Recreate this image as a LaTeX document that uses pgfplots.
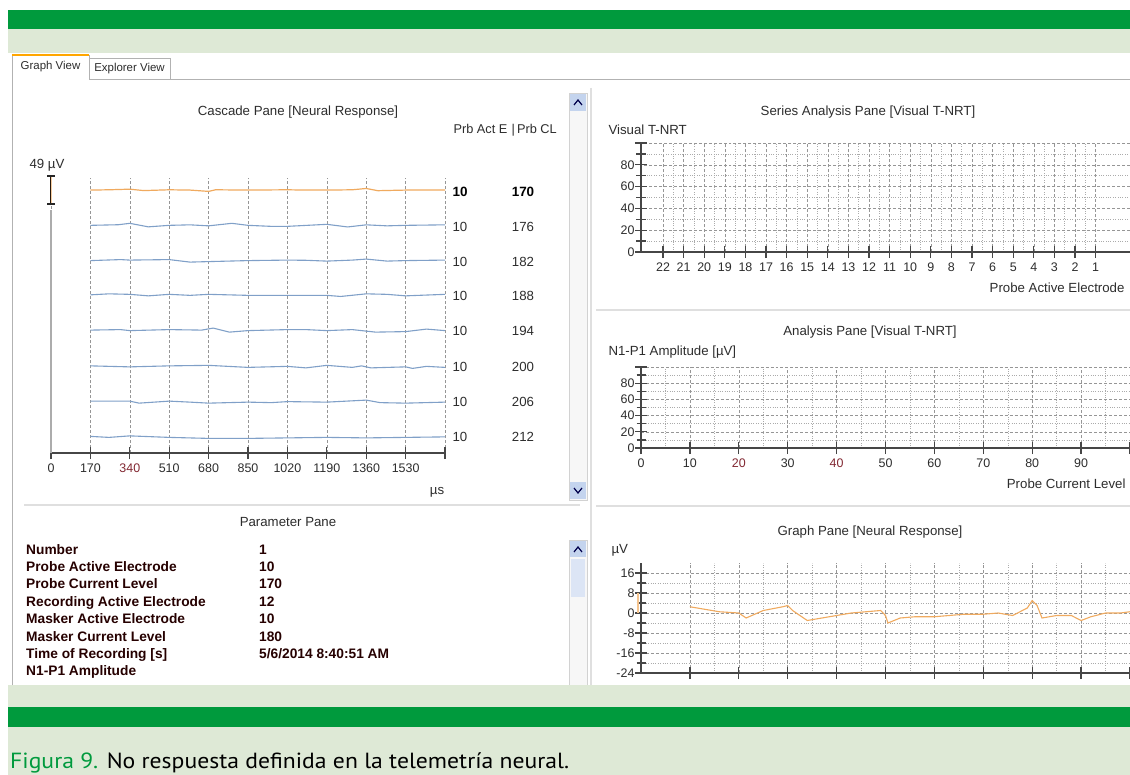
\documentclass[border=0pt]{standalone}
\usepackage{pgfplots}
\pgfplotsset{compat=1.18}
\usepackage{fontspec}
\setmainfont{Liberation Sans}
\newfontfamily\capfont[FakeStretch=1.08]{PT Sans}
\definecolor{dkgreen}{RGB}{0,154,61}
\definecolor{ltgreen}{RGB}{222,233,214}
\definecolor{trace}{RGB}{128,160,200}
\definecolor{otrace}{RGB}{240,170,95}
\definecolor{axgray}{RGB}{70,70,70}
\definecolor{gridc}{RGB}{150,150,150}
\definecolor{sbtn}{RGB}{196,212,238}
\definecolor{txt}{RGB}{45,45,45}
\definecolor{lblred}{RGB}{130,40,50}
\newcommand{\ui}{\fontsize{13.3}{15}\selectfont}
\newcommand{\tickf}{\fontsize{12.5}{14}\selectfont}
\newcommand{\pf}{\fontsize{13.8}{15}\selectfont\bfseries}
\pgfplotsset{
 pane/.style={
  scale only axis, clip=false,
  axis x line=bottom, axis y line=left,
  axis line style={-, axgray, line width=2bp},
  tick style={axgray, line width=1.3bp},
  tick align=center,
  major tick length=12bp, minor tick length=9bp,
  minor x tick style={draw=none},
  ticklabel style={font=\tickf, text=txt},
  /pgf/number format/assume math mode=true,
  grid=both,
  major grid style={gridc, densely dashed, line width=0.5bp},
  minor grid style={gridc!80, dotted, line width=0.5bp},
 }
}
\begin{document}
\begin{tikzpicture}[x=1bp,y=-1bp]
\path[use as bounding box] (0,0) rectangle (1130,775);
\coordinate (cA) at (51,453);
\coordinate (cB) at (641,252);
\coordinate (cC) at (641,448);
\coordinate (cD) at (641,673);
\fill[white] (0,0) rectangle (1130,775);
\fill[ltgreen] (8,10) rectangle (1130,775);
\fill[dkgreen] (8,10) rectangle (1130,29);
\fill[white] (0,53) rectangle (1130,685);
\fill[dkgreen] (8,707) rectangle (1130,727);
\node[anchor=base west, inner sep=0] at (10,768) {\capfont\fontsize{22}{24}\selectfont\textcolor{dkgreen}{Figura 9.} No respuesta definida en la telemetría neural.};
% tabs and frame
\draw[gray!60] (89,58) rectangle (170,79);
\node[text=txt] at (129.5,69) {\fontsize{11.5}{12}\selectfont Explorer View};
\draw[gray!60] (12,685) -- (12,55) -- (89,55) -- (89,79) -- (1130,79);
\draw[orange!70!yellow, line width=1.6bp] (12,55) -- (89,55);
\node[text=txt] at (50.5,67) {\fontsize{11.5}{12}\selectfont Graph View};
% separators
\draw[gray!25, line width=1.5bp] (24,505) -- (580,505);
\draw[gray!25, line width=1.5bp] (596,310) -- (1130,310);
\draw[gray!25, line width=1.5bp] (596,506) -- (1130,506);
\draw[gray!25, line width=1.5bp] (591,88) -- (591,685);
% scrollbars
\fill[gray!6] (569,93) rectangle (587,500);
\draw[gray!35] (569,93) rectangle (587,500);
\fill[sbtn] (570,94) rectangle (586,111);
\draw[blue!30!black, line width=1.2bp] (574,105) -- (578,100) -- (582,105);
\fill[sbtn] (570,482) rectangle (586,499);
\draw[blue!30!black, line width=1.2bp] (574,488) -- (578,493) -- (582,488);
\fill[gray!6] (569,540) rectangle (587,685);
\draw[gray!35] (569,540) -- (569,685) (587,540) -- (587,685) (569,540) -- (587,540);
\fill[sbtn] (570,541) rectangle (586,557);
\draw[blue!30!black, line width=1.2bp] (574,552) -- (578,547) -- (582,552);
\fill[sbtn!60] (571,559) rectangle (585,597);
% cascade texts
\node[text=txt] at (298,112) {\ui Cascade Pane [Neural Response]};
\node[text=txt, anchor=west] at (450,130) {\fontsize{12.8}{14}\selectfont Prb Act E\,\,|\,Prb CL};
\node[text=txt, anchor=west] at (26,165) {\ui 49 µV};
\foreach \yy/\cl [count=\i] in {192/170,227/176,262/182,296/188,331/194,367/200,402/206,437/212}{
  \ifnum\i=1
    \node[text=black, anchor=west] at (449,\yy) {\fontsize{13.5}{15}\selectfont\bfseries 10};
    \node[text=black] at (523,\yy) {\fontsize{13.5}{15}\selectfont\bfseries \cl};
  \else
    \node[text=txt, anchor=west] at (449,\yy) {\ui 10};
    \node[text=txt] at (523,\yy) {\ui \cl};
  \fi
}
\node[text=txt] at (437,492) {\ui µs};
% cascade axis
\begin{axis}[pane, at={(cA)}, anchor=south west, width=394bp, height=275bp,
  xmin=0, xmax=1700, ymin=0, ymax=273, axis y line=none,
  xtick={0,170,...,1700}, xticklabels={0,170,\textcolor{lblred}{340},510,680,850,1020,1190,1360,1530,},
  ymajorgrids=false, yminorgrids=false, xminorgrids=false,
  major grid style={gridc, densely dashed, line width=0.6bp},
  xticklabel style={yshift=-1bp}]
\draw[gray!65, line width=2bp] (axis cs:0,0) -- (axis cs:0,241);
\draw[otrace!60, line width=2.6bp] (axis cs:0,248) -- (axis cs:0,274);
\draw[black!80!brown, line width=1bp] (axis cs:0,247) -- (axis cs:0,275);
\draw[black!85, line width=1.4bp] (axis cs:-17,275) -- (axis cs:17,275) (axis cs:-17,247) -- (axis cs:17,247);
\addplot[otrace, line width=1.2bp] table[row sep=\\, y expr=\thisrow{v}+261] {x v\\
170 0\\ 250 0.3\\ 340 0.9\\ 400 -0.5\\ 510 0.3\\ 600 0\\ 680 -1.3\\ 710 0.3\\ 850 0\\ 1020 0.3\\ 1100 0\\ 1190 0\\ 1300 0.3\\ 1360 1.6\\ 1410 -0.6\\ 1530 0\\ 1700 0\\};
\addplot[trace, line width=1.1bp] table[row sep=\\, y expr=\thisrow{v}+226] {x v\\
170 0\\ 290 0.6\\ 340 2\\ 420 -1.5\\ 510 0\\ 600 0.5\\ 680 -0.5\\ 780 2\\ 850 0\\ 950 -1\\ 1020 -1\\ 1190 1\\ 1280 -1.6\\ 1360 0.5\\ 1450 -0.5\\ 1530 0\\ 1700 0.5\\};
\addplot[trace, line width=1.1bp] table[row sep=\\, y expr=\thisrow{v}+191] {x v\\
170 0\\ 300 1\\ 340 0.5\\ 510 1\\ 600 -1.5\\ 680 -1\\ 850 0\\ 1020 0.5\\ 1100 0.3\\ 1190 -0.5\\ 1300 0.5\\ 1360 1.5\\ 1450 -0.5\\ 1530 0\\ 1700 0.5\\};
\addplot[trace, line width=1.1bp] table[row sep=\\, y expr=\thisrow{v}+157] {x v\\
170 0\\ 250 1\\ 340 0.5\\ 420 -1\\ 510 0.5\\ 600 -0.5\\ 680 0.5\\ 850 -0.5\\ 1020 -0.5\\ 1190 -0.5\\ 1250 -1.6\\ 1360 1\\ 1450 0.5\\ 1530 -1\\ 1700 0.5\\};
\addplot[trace, line width=1.1bp] table[row sep=\\, y expr=\thisrow{v}+122] {x v\\
170 0\\ 300 0.5\\ 340 -0.5\\ 510 0.5\\ 650 0\\ 700 2\\ 770 -2\\ 850 -0.5\\ 1020 0.5\\ 1100 0.5\\ 1190 -0.5\\ 1300 0.5\\ 1400 -2\\ 1530 -1.5\\ 1620 1\\ 1700 -0.5\\};
\addplot[trace, line width=1.1bp] table[row sep=\\, y expr=\thisrow{v}+86] {x v\\
170 0.5\\ 340 -0.5\\ 510 0.5\\ 680 1\\ 850 -1\\ 1020 0\\ 1100 -1.5\\ 1190 1\\ 1300 -1\\ 1340 0.5\\ 1380 -1.5\\ 1530 -0.5\\ 1560 -2\\ 1620 0\\ 1700 -1\\};
\addplot[trace, line width=1.1bp] table[row sep=\\, y expr=\thisrow{v}+51] {x v\\
170 0.5\\ 340 0.5\\ 380 -1.5\\ 510 0.5\\ 600 -0.5\\ 680 -1.5\\ 850 -0.5\\ 950 -1\\ 1020 0\\ 1190 -0.5\\ 1360 1.5\\ 1420 -1\\ 1530 -1.5\\ 1700 -0.5\\};
\addplot[trace, line width=1.1bp] table[row sep=\\, y expr=\thisrow{v}+16] {x v\\
170 0.5\\ 250 -0.5\\ 340 1\\ 510 -0.5\\ 680 -1.5\\ 850 -1.5\\ 1020 -1\\ 1190 -0.5\\ 1360 -1\\ 1530 -0.5\\ 1700 0\\};
\end{axis}
% series analysis pane
\node[text=txt] at (868,112) {\ui Series Analysis Pane [Visual T-NRT]};
\node[text=txt, anchor=west] at (605,130) {\ui Visual T-NRT};
\node[text=txt, anchor=east] at (1128,288) {\ui Probe Active Electrode};
\begin{axis}[pane, at={(cB)}, anchor=south west, width=489bp, height=109bp,
  x dir=reverse, xmin=-0.67, xmax=23.07, ymin=0, ymax=100,
  xtick={1,...,22}, minor x tick num=1, ytick={0,20,...,100}, yticklabels={0,20,40,60,80,},
  minor y tick num=1, yticklabel style={xshift=3bp}, xticklabel style={yshift=-1bp}]
\end{axis}
% analysis pane
\node[text=txt] at (870,332) {\ui Analysis Pane [Visual T-NRT]};
\node[text=txt, anchor=west] at (605,352) {\ui N1-P1 Amplitude [µV]};
\node[text=txt, anchor=east] at (1129,484) {\ui Probe Current Level};
\begin{axis}[pane, at={(cC)}, anchor=south west, width=489bp, height=81bp,
  xmin=0, xmax=100, ymin=0, ymax=100,
  xtick={0,10,...,100}, xticklabels={0,10,\textcolor{lblred}{20},30,\textcolor{lblred}{40},50,60,70,80,90,},
  minor x tick num=1, ytick={0,20,...,100}, yticklabels={0,20,40,60,80,},
  minor y tick num=1, yticklabel style={xshift=3bp}, xticklabel style={yshift=-1bp}]
\end{axis}
% graph pane
\node[text=txt] at (870,532) {\ui Graph Pane [Neural Response]};
\node[text=txt, anchor=west] at (608,550) {\ui µV};
\begin{axis}[pane, at={(cD)}, anchor=south west, width=489bp, height=110bp,
  xmin=0, xmax=10, ymin=-24, ymax=20,
  xtick={1,...,10}, xticklabels={}, minor x tick num=1,
  ytick={-24,-16,...,16}, minor y tick num=1, yticklabel style={xshift=3bp}]
\draw[otrace!70, line width=2.5bp] ([xshift=-3bp]axis cs:0,0) -- ([xshift=-3bp]axis cs:0,8);
\addplot[otrace, line width=1.1bp] table[row sep=\\] {x y\\
1.0 2.5\\ 1.3 1.5\\ 1.6 0.5\\ 2.0 0\\ 2.15 -2\\ 2.5 1\\ 2.9 2.5\\ 3.0 3\\ 3.1 1\\ 3.4 -3\\ 3.7 -2\\ 4.0 -1\\ 4.3 0\\ 4.6 0.5\\ 4.9 1\\ 5.0 -1\\ 5.05 -4\\ 5.3 -2\\ 5.6 -1.5\\ 6.0 -1.5\\ 6.3 -1\\ 6.6 -0.5\\ 7.0 -0.5\\ 7.3 0\\ 7.6 -1\\ 7.9 2\\ 8.0 5\\ 8.1 3\\ 8.2 -2\\ 8.5 -1\\ 8.8 -1\\ 9.0 -3\\ 9.2 -1.5\\ 9.5 0\\ 9.8 0\\ 10.0 0.5\\};
\end{axis}
% parameter pane
\node[text=txt] at (288,522) {\ui Parameter Pane};
\foreach \lab/\val [count=\i] in {Number/1, Probe Active Electrode/10, Probe Current Level/170, Recording Active Electrode/12, Masker Active Electrode/10, Masker Current Level/180, Time of Recording [s]/5\slash 6\slash 2014 8:40:51 AM, N1-P1 Amplitude/{}}{
  \pgfmathsetmacro{\yy}{554+(\i-1)*17.4}
  \node[anchor=base west, text=black!85!red, inner sep=0] at (26,\yy) {\pf \lab};
  \node[anchor=base west, text=black!85!red, inner sep=0] at (259,\yy) {\pf \val};
}
\end{tikzpicture}
\end{document}
